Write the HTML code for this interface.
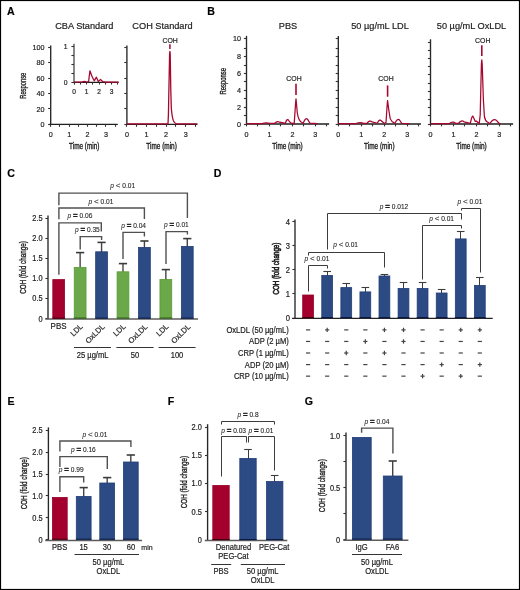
<!DOCTYPE html>
<html><head><meta charset="utf-8"><style>
html,body{margin:0;padding:0;background:#fff;}
svg{display:block;font-family:"Liberation Sans",sans-serif;will-change:transform;}
text{stroke:#1e1e1e;stroke-width:0.2px;}
</style></head><body>
<svg width="520" height="590" viewBox="0 0 520 590" fill="#1e1e1e">
<rect width="520" height="590" fill="#fff"/>
<rect x="0.5" y="0.5" width="519" height="589" fill="none" stroke="#000" stroke-width="1.2"/>
<text x="7.10" y="15.10" font-size="10.6" text-anchor="start" font-weight="bold" fill="#000">A</text>
<text x="207.20" y="15.10" font-size="10.6" text-anchor="start" font-weight="bold" fill="#000">B</text>
<text x="7.30" y="176.70" font-size="10.6" text-anchor="start" font-weight="bold" fill="#000">C</text>
<text x="213.70" y="176.70" font-size="10.6" text-anchor="start" font-weight="bold" fill="#000">D</text>
<text x="7.60" y="405.10" font-size="10.6" text-anchor="start" font-weight="bold" fill="#000">E</text>
<text x="167.70" y="405.10" font-size="10.6" text-anchor="start" font-weight="bold" fill="#000">F</text>
<text x="304.70" y="405.10" font-size="10.6" text-anchor="start" font-weight="bold" fill="#000">G</text>
<text x="0" y="0" font-size="9.6" text-anchor="middle" transform="translate(84.30 29.40) scale(0.958 1)">CBA Standard</text>
<text x="0" y="0" font-size="9.6" text-anchor="middle" transform="translate(162.50 29.40) scale(0.958 1)">COH Standard</text>
<line x1="50.70" y1="45.40" x2="50.70" y2="125.00" stroke="#262626" stroke-width="1.35"/>
<line x1="48.10" y1="124.50" x2="50.70" y2="124.50" stroke="#333" stroke-width="1.1"/>
<text x="0" y="0" font-size="7.92" text-anchor="end" transform="translate(44.60 127.24) scale(0.91 1)">0</text>
<line x1="48.10" y1="108.50" x2="50.70" y2="108.50" stroke="#333" stroke-width="1.1"/>
<text x="0" y="0" font-size="7.92" text-anchor="end" transform="translate(44.60 111.79) scale(0.91 1)">20</text>
<line x1="48.10" y1="93.50" x2="50.70" y2="93.50" stroke="#333" stroke-width="1.1"/>
<text x="0" y="0" font-size="7.92" text-anchor="end" transform="translate(44.60 96.34) scale(0.91 1)">40</text>
<line x1="48.10" y1="78.50" x2="50.70" y2="78.50" stroke="#333" stroke-width="1.1"/>
<text x="0" y="0" font-size="7.92" text-anchor="end" transform="translate(44.60 80.89) scale(0.91 1)">60</text>
<line x1="48.10" y1="62.50" x2="50.70" y2="62.50" stroke="#333" stroke-width="1.1"/>
<text x="0" y="0" font-size="7.92" text-anchor="end" transform="translate(44.60 65.44) scale(0.91 1)">80</text>
<line x1="48.10" y1="47.50" x2="50.70" y2="47.50" stroke="#333" stroke-width="1.1"/>
<text x="0" y="0" font-size="7.92" text-anchor="end" transform="translate(44.60 49.99) scale(0.91 1)">100</text>
<line x1="49.50" y1="124.40" x2="117.80" y2="124.40" stroke="#1e1e1e" stroke-width="1.3"/>
<line x1="50.50" y1="124.40" x2="50.50" y2="126.80" stroke="#333" stroke-width="1.1"/>
<line x1="59.50" y1="124.40" x2="59.50" y2="126.80" stroke="#333" stroke-width="1.1"/>
<line x1="69.50" y1="124.40" x2="69.50" y2="126.80" stroke="#333" stroke-width="1.1"/>
<line x1="78.50" y1="124.40" x2="78.50" y2="126.80" stroke="#333" stroke-width="1.1"/>
<line x1="87.50" y1="124.40" x2="87.50" y2="126.80" stroke="#333" stroke-width="1.1"/>
<line x1="96.50" y1="124.40" x2="96.50" y2="126.80" stroke="#333" stroke-width="1.1"/>
<line x1="105.50" y1="124.40" x2="105.50" y2="126.80" stroke="#333" stroke-width="1.1"/>
<line x1="115.50" y1="124.40" x2="115.50" y2="126.80" stroke="#333" stroke-width="1.1"/>
<text x="0" y="0" font-size="7.92" text-anchor="middle" transform="translate(50.75 137.26) scale(0.91 1)">0</text>
<text x="0" y="0" font-size="7.92" text-anchor="middle" transform="translate(69.15 137.26) scale(0.91 1)">1</text>
<text x="0" y="0" font-size="7.92" text-anchor="middle" transform="translate(87.55 137.26) scale(0.91 1)">2</text>
<text x="0" y="0" font-size="7.92" text-anchor="middle" transform="translate(105.95 137.26) scale(0.91 1)">3</text>
<line x1="74.00" y1="43.80" x2="74.00" y2="83.00" stroke="#262626" stroke-width="1.1"/>
<line x1="71.40" y1="82.50" x2="74.00" y2="82.50" stroke="#333" stroke-width="1.1"/>
<text x="0" y="0" font-size="7.48" text-anchor="end" transform="translate(67.60 85.08) scale(0.91 1)">0</text>
<line x1="71.40" y1="73.50" x2="74.00" y2="73.50" stroke="#333" stroke-width="1.1"/>
<line x1="71.40" y1="64.50" x2="74.00" y2="64.50" stroke="#333" stroke-width="1.1"/>
<line x1="71.40" y1="55.50" x2="74.00" y2="55.50" stroke="#333" stroke-width="1.1"/>
<line x1="71.40" y1="46.50" x2="74.00" y2="46.50" stroke="#333" stroke-width="1.1"/>
<text x="0" y="0" font-size="7.48" text-anchor="end" transform="translate(67.60 49.48) scale(0.91 1)">1</text>
<line x1="74.00" y1="82.40" x2="118.60" y2="82.40" stroke="#1e1e1e" stroke-width="1.1"/>
<line x1="74.50" y1="82.40" x2="74.50" y2="84.60" stroke="#333" stroke-width="1.1"/>
<line x1="80.50" y1="82.40" x2="80.50" y2="84.60" stroke="#333" stroke-width="1.1"/>
<line x1="86.50" y1="82.40" x2="86.50" y2="84.60" stroke="#333" stroke-width="1.1"/>
<line x1="92.50" y1="82.40" x2="92.50" y2="84.60" stroke="#333" stroke-width="1.1"/>
<line x1="99.50" y1="82.40" x2="99.50" y2="84.60" stroke="#333" stroke-width="1.1"/>
<line x1="105.50" y1="82.40" x2="105.50" y2="84.60" stroke="#333" stroke-width="1.1"/>
<line x1="111.50" y1="82.40" x2="111.50" y2="84.60" stroke="#333" stroke-width="1.1"/>
<line x1="117.50" y1="82.40" x2="117.50" y2="84.60" stroke="#333" stroke-width="1.1"/>
<text x="0" y="0" font-size="7.26" text-anchor="middle" transform="translate(74.00 94.44) scale(0.91 1)">0</text>
<text x="0" y="0" font-size="7.26" text-anchor="middle" transform="translate(86.55 94.44) scale(0.91 1)">1</text>
<text x="0" y="0" font-size="7.26" text-anchor="middle" transform="translate(99.10 94.44) scale(0.91 1)">2</text>
<text x="0" y="0" font-size="7.26" text-anchor="middle" transform="translate(111.65 94.44) scale(0.91 1)">3</text>
<path d="M74,82.1 L82,82.0 Q84.5,80.6 86.3,82.0 L88.6,81.6 L89.9,70.8 Q91.5,76 94.2,80.8 L96.4,77.2 L98.3,81.6 L100.5,79.4 L102.8,81.7 L106,82.1 L118.6,82.1" fill="none" stroke="#a6062f" stroke-width="1.25" stroke-linejoin="round"/>
<text x="84.27" y="149.30" font-size="8.4" text-anchor="middle" textLength="30.5" lengthAdjust="spacingAndGlyphs" style="stroke-width:0.35px">Time (min)</text>
<text x="25.60" y="85.75" font-size="8.3" text-anchor="middle" textLength="26.0" lengthAdjust="spacingAndGlyphs" style="stroke-width:0.35px" transform="rotate(-90 25.60 85.75)">Response</text>
<line x1="126.90" y1="45.40" x2="126.90" y2="125.00" stroke="#262626" stroke-width="1.35"/>
<line x1="124.30" y1="124.50" x2="126.90" y2="124.50" stroke="#333" stroke-width="1.1"/>
<line x1="124.30" y1="108.50" x2="126.90" y2="108.50" stroke="#333" stroke-width="1.1"/>
<line x1="124.30" y1="93.50" x2="126.90" y2="93.50" stroke="#333" stroke-width="1.1"/>
<line x1="124.30" y1="78.50" x2="126.90" y2="78.50" stroke="#333" stroke-width="1.1"/>
<line x1="124.30" y1="62.50" x2="126.90" y2="62.50" stroke="#333" stroke-width="1.1"/>
<line x1="124.30" y1="47.50" x2="126.90" y2="47.50" stroke="#333" stroke-width="1.1"/>
<line x1="126.90" y1="124.40" x2="197.40" y2="124.40" stroke="#1e1e1e" stroke-width="1.3"/>
<line x1="126.50" y1="124.40" x2="126.50" y2="126.80" stroke="#333" stroke-width="1.1"/>
<line x1="136.50" y1="124.40" x2="136.50" y2="126.80" stroke="#333" stroke-width="1.1"/>
<line x1="146.50" y1="124.40" x2="146.50" y2="126.80" stroke="#333" stroke-width="1.1"/>
<line x1="156.50" y1="124.40" x2="156.50" y2="126.80" stroke="#333" stroke-width="1.1"/>
<line x1="166.50" y1="124.40" x2="166.50" y2="126.80" stroke="#333" stroke-width="1.1"/>
<line x1="175.50" y1="124.40" x2="175.50" y2="126.80" stroke="#333" stroke-width="1.1"/>
<line x1="185.50" y1="124.40" x2="185.50" y2="126.80" stroke="#333" stroke-width="1.1"/>
<line x1="195.50" y1="124.40" x2="195.50" y2="126.80" stroke="#333" stroke-width="1.1"/>
<text x="0" y="0" font-size="7.92" text-anchor="middle" transform="translate(126.90 137.26) scale(0.91 1)">0</text>
<text x="0" y="0" font-size="7.92" text-anchor="middle" transform="translate(146.50 137.26) scale(0.91 1)">1</text>
<text x="0" y="0" font-size="7.92" text-anchor="middle" transform="translate(166.10 137.26) scale(0.91 1)">2</text>
<text x="0" y="0" font-size="7.92" text-anchor="middle" transform="translate(185.70 137.26) scale(0.91 1)">3</text>
<path d="M126.9,123.8 L168.0,123.8 L168.4,115 L169.6,54 L169.9,51.3 L170.2,54 L170.8,90 L171.3,108 Q172.2,118 173.5,121 Q174.8,123.6 176.5,123.8 L197.4,123.8" fill="none" stroke="#a6062f" stroke-width="1.3" stroke-linejoin="round"/>
<line x1="169.90" y1="44.20" x2="169.90" y2="49.00" stroke="#a6062f" stroke-width="1.5"/>
<text x="0" y="0" font-size="7.59" text-anchor="middle" transform="translate(170.10 42.65) scale(0.91 1)">COH</text>
<text x="161.60" y="149.30" font-size="8.4" text-anchor="middle" textLength="30.5" lengthAdjust="spacingAndGlyphs" style="stroke-width:0.35px">Time (min)</text>
<text x="0" y="0" font-size="9.6" text-anchor="middle" transform="translate(288.00 29.00) scale(0.958 1)">PBS</text>
<text x="0" y="0" font-size="9.6" text-anchor="middle" transform="translate(380.00 29.00) scale(0.958 1)">50 µg/mL LDL</text>
<text x="0" y="0" font-size="9.6" text-anchor="middle" transform="translate(471.50 29.00) scale(0.958 1)">50 µg/mL OxLDL</text>
<line x1="246.50" y1="35.90" x2="246.50" y2="124.60" stroke="#262626" stroke-width="1.35"/>
<line x1="243.90" y1="124.50" x2="246.50" y2="124.50" stroke="#333" stroke-width="1.1"/>
<text x="0" y="0" font-size="7.92" text-anchor="end" transform="translate(240.90 127.04) scale(0.91 1)">0</text>
<line x1="243.90" y1="115.50" x2="246.50" y2="115.50" stroke="#333" stroke-width="1.1"/>
<line x1="243.90" y1="107.50" x2="246.50" y2="107.50" stroke="#333" stroke-width="1.1"/>
<text x="0" y="0" font-size="7.92" text-anchor="end" transform="translate(240.90 110.14) scale(0.91 1)">2</text>
<line x1="243.90" y1="98.50" x2="246.50" y2="98.50" stroke="#333" stroke-width="1.1"/>
<line x1="243.90" y1="90.50" x2="246.50" y2="90.50" stroke="#333" stroke-width="1.1"/>
<text x="0" y="0" font-size="7.92" text-anchor="end" transform="translate(240.90 93.24) scale(0.91 1)">4</text>
<line x1="243.90" y1="81.50" x2="246.50" y2="81.50" stroke="#333" stroke-width="1.1"/>
<line x1="243.90" y1="73.50" x2="246.50" y2="73.50" stroke="#333" stroke-width="1.1"/>
<text x="0" y="0" font-size="7.92" text-anchor="end" transform="translate(240.90 76.44) scale(0.91 1)">6</text>
<line x1="243.90" y1="65.50" x2="246.50" y2="65.50" stroke="#333" stroke-width="1.1"/>
<line x1="243.90" y1="56.50" x2="246.50" y2="56.50" stroke="#333" stroke-width="1.1"/>
<text x="0" y="0" font-size="7.92" text-anchor="end" transform="translate(240.90 59.44) scale(0.91 1)">8</text>
<line x1="243.90" y1="48.50" x2="246.50" y2="48.50" stroke="#333" stroke-width="1.1"/>
<line x1="243.90" y1="38.50" x2="246.50" y2="38.50" stroke="#333" stroke-width="1.1"/>
<text x="0" y="0" font-size="7.92" text-anchor="end" transform="translate(240.90 41.24) scale(0.91 1)">10</text>
<line x1="246.50" y1="124.00" x2="329.12" y2="124.00" stroke="#1e1e1e" stroke-width="1.3"/>
<line x1="246.50" y1="124.00" x2="246.50" y2="126.40" stroke="#333" stroke-width="1.1"/>
<line x1="257.50" y1="124.00" x2="257.50" y2="126.40" stroke="#333" stroke-width="1.1"/>
<line x1="269.50" y1="124.00" x2="269.50" y2="126.40" stroke="#333" stroke-width="1.1"/>
<line x1="280.50" y1="124.00" x2="280.50" y2="126.40" stroke="#333" stroke-width="1.1"/>
<line x1="292.50" y1="124.00" x2="292.50" y2="126.40" stroke="#333" stroke-width="1.1"/>
<line x1="303.50" y1="124.00" x2="303.50" y2="126.40" stroke="#333" stroke-width="1.1"/>
<line x1="315.50" y1="124.00" x2="315.50" y2="126.40" stroke="#333" stroke-width="1.1"/>
<line x1="326.50" y1="124.00" x2="326.50" y2="126.40" stroke="#333" stroke-width="1.1"/>
<text x="0" y="0" font-size="7.92" text-anchor="middle" transform="translate(246.50 137.26) scale(0.91 1)">0</text>
<text x="0" y="0" font-size="7.92" text-anchor="middle" transform="translate(269.45 137.26) scale(0.91 1)">1</text>
<text x="0" y="0" font-size="7.92" text-anchor="middle" transform="translate(292.40 137.26) scale(0.91 1)">2</text>
<text x="0" y="0" font-size="7.92" text-anchor="middle" transform="translate(315.35 137.26) scale(0.91 1)">3</text>
<text x="287.52" y="149.30" font-size="8.4" text-anchor="middle" textLength="30.5" lengthAdjust="spacingAndGlyphs" style="stroke-width:0.35px">Time (min)</text>
<line x1="338.30" y1="35.90" x2="338.30" y2="124.60" stroke="#262626" stroke-width="1.35"/>
<line x1="335.70" y1="124.50" x2="338.30" y2="124.50" stroke="#333" stroke-width="1.1"/>
<line x1="335.70" y1="115.50" x2="338.30" y2="115.50" stroke="#333" stroke-width="1.1"/>
<line x1="335.70" y1="107.50" x2="338.30" y2="107.50" stroke="#333" stroke-width="1.1"/>
<line x1="335.70" y1="98.50" x2="338.30" y2="98.50" stroke="#333" stroke-width="1.1"/>
<line x1="335.70" y1="90.50" x2="338.30" y2="90.50" stroke="#333" stroke-width="1.1"/>
<line x1="335.70" y1="81.50" x2="338.30" y2="81.50" stroke="#333" stroke-width="1.1"/>
<line x1="335.70" y1="73.50" x2="338.30" y2="73.50" stroke="#333" stroke-width="1.1"/>
<line x1="335.70" y1="65.50" x2="338.30" y2="65.50" stroke="#333" stroke-width="1.1"/>
<line x1="335.70" y1="56.50" x2="338.30" y2="56.50" stroke="#333" stroke-width="1.1"/>
<line x1="335.70" y1="48.50" x2="338.30" y2="48.50" stroke="#333" stroke-width="1.1"/>
<line x1="335.70" y1="38.50" x2="338.30" y2="38.50" stroke="#333" stroke-width="1.1"/>
<line x1="338.30" y1="124.00" x2="420.92" y2="124.00" stroke="#1e1e1e" stroke-width="1.3"/>
<line x1="338.50" y1="124.00" x2="338.50" y2="126.40" stroke="#333" stroke-width="1.1"/>
<line x1="349.50" y1="124.00" x2="349.50" y2="126.40" stroke="#333" stroke-width="1.1"/>
<line x1="361.50" y1="124.00" x2="361.50" y2="126.40" stroke="#333" stroke-width="1.1"/>
<line x1="372.50" y1="124.00" x2="372.50" y2="126.40" stroke="#333" stroke-width="1.1"/>
<line x1="384.50" y1="124.00" x2="384.50" y2="126.40" stroke="#333" stroke-width="1.1"/>
<line x1="395.50" y1="124.00" x2="395.50" y2="126.40" stroke="#333" stroke-width="1.1"/>
<line x1="407.50" y1="124.00" x2="407.50" y2="126.40" stroke="#333" stroke-width="1.1"/>
<line x1="418.50" y1="124.00" x2="418.50" y2="126.40" stroke="#333" stroke-width="1.1"/>
<text x="0" y="0" font-size="7.92" text-anchor="middle" transform="translate(338.30 137.26) scale(0.91 1)">0</text>
<text x="0" y="0" font-size="7.92" text-anchor="middle" transform="translate(361.25 137.26) scale(0.91 1)">1</text>
<text x="0" y="0" font-size="7.92" text-anchor="middle" transform="translate(384.20 137.26) scale(0.91 1)">2</text>
<text x="0" y="0" font-size="7.92" text-anchor="middle" transform="translate(407.15 137.26) scale(0.91 1)">3</text>
<text x="379.32" y="149.30" font-size="8.4" text-anchor="middle" textLength="30.5" lengthAdjust="spacingAndGlyphs" style="stroke-width:0.35px">Time (min)</text>
<line x1="430.50" y1="39.30" x2="430.50" y2="124.60" stroke="#262626" stroke-width="1.35"/>
<line x1="427.90" y1="124.50" x2="430.50" y2="124.50" stroke="#333" stroke-width="1.1"/>
<line x1="427.90" y1="115.50" x2="430.50" y2="115.50" stroke="#333" stroke-width="1.1"/>
<line x1="427.90" y1="107.50" x2="430.50" y2="107.50" stroke="#333" stroke-width="1.1"/>
<line x1="427.90" y1="99.50" x2="430.50" y2="99.50" stroke="#333" stroke-width="1.1"/>
<line x1="427.90" y1="91.50" x2="430.50" y2="91.50" stroke="#333" stroke-width="1.1"/>
<line x1="427.90" y1="83.50" x2="430.50" y2="83.50" stroke="#333" stroke-width="1.1"/>
<line x1="427.90" y1="74.50" x2="430.50" y2="74.50" stroke="#333" stroke-width="1.1"/>
<line x1="427.90" y1="66.50" x2="430.50" y2="66.50" stroke="#333" stroke-width="1.1"/>
<line x1="427.90" y1="58.50" x2="430.50" y2="58.50" stroke="#333" stroke-width="1.1"/>
<line x1="427.90" y1="50.50" x2="430.50" y2="50.50" stroke="#333" stroke-width="1.1"/>
<line x1="427.90" y1="42.50" x2="430.50" y2="42.50" stroke="#333" stroke-width="1.1"/>
<line x1="430.50" y1="124.00" x2="513.12" y2="124.00" stroke="#1e1e1e" stroke-width="1.3"/>
<line x1="430.50" y1="124.00" x2="430.50" y2="126.40" stroke="#333" stroke-width="1.1"/>
<line x1="441.50" y1="124.00" x2="441.50" y2="126.40" stroke="#333" stroke-width="1.1"/>
<line x1="453.50" y1="124.00" x2="453.50" y2="126.40" stroke="#333" stroke-width="1.1"/>
<line x1="464.50" y1="124.00" x2="464.50" y2="126.40" stroke="#333" stroke-width="1.1"/>
<line x1="476.50" y1="124.00" x2="476.50" y2="126.40" stroke="#333" stroke-width="1.1"/>
<line x1="487.50" y1="124.00" x2="487.50" y2="126.40" stroke="#333" stroke-width="1.1"/>
<line x1="499.50" y1="124.00" x2="499.50" y2="126.40" stroke="#333" stroke-width="1.1"/>
<line x1="510.50" y1="124.00" x2="510.50" y2="126.40" stroke="#333" stroke-width="1.1"/>
<text x="0" y="0" font-size="7.92" text-anchor="middle" transform="translate(430.50 137.26) scale(0.91 1)">0</text>
<text x="0" y="0" font-size="7.92" text-anchor="middle" transform="translate(453.45 137.26) scale(0.91 1)">1</text>
<text x="0" y="0" font-size="7.92" text-anchor="middle" transform="translate(476.40 137.26) scale(0.91 1)">2</text>
<text x="0" y="0" font-size="7.92" text-anchor="middle" transform="translate(499.35 137.26) scale(0.91 1)">3</text>
<text x="471.52" y="149.30" font-size="8.4" text-anchor="middle" textLength="30.5" lengthAdjust="spacingAndGlyphs" style="stroke-width:0.35px">Time (min)</text>
<text x="225.60" y="81.30" font-size="8.3" text-anchor="middle" textLength="26.5" lengthAdjust="spacingAndGlyphs" style="stroke-width:0.35px" transform="rotate(-90 225.60 81.30)">Response</text>
<path d="M246.5,123.6 L262,123.6 Q266,122.3 270,123.4 L274.5,123.4 Q277,120.6 279.5,122.2 L283.4,122.9 L285.3,123.3 Q287.2,117.8 288.5,120.3 L290.6,122.8 L294.2,123.6 L295.6,103 L296.0,98.8 L296.4,103 L297.3,113 Q298.3,119.5 300.8,121.8 L303.2,123.2 Q305.8,116.8 307.8,119.6 L309.9,123.2 L317.6,123.6" fill="none" stroke="#a6062f" stroke-width="1.25" stroke-linejoin="round"/>
<line x1="296.00" y1="83.70" x2="296.00" y2="95.00" stroke="#a6062f" stroke-width="1.6"/>
<text x="0" y="0" font-size="7.59" text-anchor="middle" transform="translate(294.00 81.05) scale(0.91 1)">COH</text>
<path d="M338.3,123.6 L356,123.6 Q360.3,121.6 363.5,123.4 L367,123.3 Q369.5,119.8 372,121.8 L376.5,123.0 L377.5,122.8 Q379.7,118.4 381.5,121.0 L384.5,123.5 L386.0,122.5 L387.3,103 L387.6,100.5 L387.9,103 L388.8,110 L390.2,118.6 Q391.5,122 394.8,123.4 Q397.5,117.6 399.5,120.0 L401.8,123.4 L409.8,123.6" fill="none" stroke="#a6062f" stroke-width="1.25" stroke-linejoin="round"/>
<line x1="387.60" y1="85.40" x2="387.60" y2="96.70" stroke="#a6062f" stroke-width="1.6"/>
<text x="0" y="0" font-size="7.59" text-anchor="middle" transform="translate(386.00 81.05) scale(0.91 1)">COH</text>
<path d="M430.5,123.7 L449,123.7 Q452.8,120.8 455.8,123.4 L458.5,123.3 Q461.3,119.6 464,121.8 L470.3,123.4 Q472.4,113.2 473.4,117.2 L475.3,121.4 L476.6,121.2 L479.2,123.8 L480.2,115 L481.4,64 L481.8,59.9 L482.2,64 L483.4,100 L484.4,116.5 Q485.4,120.8 487,121.8 L489.8,123.5 Q493.5,117.8 496.5,120.4 L499.2,123.5 L500.6,123.7" fill="none" stroke="#a6062f" stroke-width="1.25" stroke-linejoin="round"/>
<line x1="481.80" y1="45.20" x2="481.80" y2="55.90" stroke="#a6062f" stroke-width="1.6"/>
<text x="0" y="0" font-size="7.59" text-anchor="middle" transform="translate(482.70 42.55) scale(0.91 1)">COH</text>
<line x1="48.00" y1="215.40" x2="48.00" y2="319.20" stroke="#262626" stroke-width="1.35"/>
<line x1="45.40" y1="318.50" x2="48.00" y2="318.50" stroke="#333" stroke-width="1.1"/>
<text x="0" y="0" font-size="8.14" text-anchor="end" transform="translate(42.60 321.51) scale(0.91 1)">0</text>
<line x1="45.40" y1="298.50" x2="48.00" y2="298.50" stroke="#333" stroke-width="1.1"/>
<text x="0" y="0" font-size="8.14" text-anchor="end" transform="translate(42.60 301.41) scale(0.91 1)">0.5</text>
<line x1="45.40" y1="278.50" x2="48.00" y2="278.50" stroke="#333" stroke-width="1.1"/>
<text x="0" y="0" font-size="8.14" text-anchor="end" transform="translate(42.60 281.31) scale(0.91 1)">1.0</text>
<line x1="45.40" y1="258.50" x2="48.00" y2="258.50" stroke="#333" stroke-width="1.1"/>
<text x="0" y="0" font-size="8.14" text-anchor="end" transform="translate(42.60 261.21) scale(0.91 1)">1.5</text>
<line x1="45.40" y1="238.50" x2="48.00" y2="238.50" stroke="#333" stroke-width="1.1"/>
<text x="0" y="0" font-size="8.14" text-anchor="end" transform="translate(42.60 241.11) scale(0.91 1)">2.0</text>
<line x1="45.40" y1="218.50" x2="48.00" y2="218.50" stroke="#333" stroke-width="1.1"/>
<text x="0" y="0" font-size="8.14" text-anchor="end" transform="translate(42.60 221.01) scale(0.91 1)">2.5</text>
<line x1="45.20" y1="319.00" x2="198.00" y2="319.00" stroke="#5c5c5c" stroke-width="1.5"/>
<rect x="52.80" y="279.60" width="11.80" height="38.80" fill="#a3002d" stroke="#9a0029" stroke-width="0.8"/>
<line x1="52.40" y1="318.10" x2="65.00" y2="318.10" stroke="#3a0010" stroke-width="1"/>
<line x1="80.13" y1="252.60" x2="80.13" y2="268.00" stroke="#444" stroke-width="1.4"/>
<line x1="76.03" y1="252.60" x2="84.23" y2="252.60" stroke="#3a3a3a" stroke-width="1.6"/>
<rect x="74.23" y="267.40" width="11.80" height="51.00" fill="#6aa84a" stroke="#5c9c36" stroke-width="0.8"/>
<line x1="73.83" y1="318.10" x2="86.43" y2="318.10" stroke="#2a4a18" stroke-width="1"/>
<line x1="101.56" y1="242.40" x2="101.56" y2="252.40" stroke="#444" stroke-width="1.4"/>
<line x1="97.46" y1="242.40" x2="105.66" y2="242.40" stroke="#3a3a3a" stroke-width="1.6"/>
<rect x="95.66" y="251.80" width="11.80" height="66.60" fill="#2c4a83" stroke="#233f78" stroke-width="0.8"/>
<line x1="95.26" y1="318.10" x2="107.86" y2="318.10" stroke="#0c1a40" stroke-width="1"/>
<line x1="122.99" y1="263.60" x2="122.99" y2="272.40" stroke="#444" stroke-width="1.4"/>
<line x1="118.89" y1="263.60" x2="127.09" y2="263.60" stroke="#3a3a3a" stroke-width="1.6"/>
<rect x="117.09" y="271.80" width="11.80" height="46.60" fill="#6aa84a" stroke="#5c9c36" stroke-width="0.8"/>
<line x1="116.69" y1="318.10" x2="129.29" y2="318.10" stroke="#2a4a18" stroke-width="1"/>
<line x1="144.42" y1="241.00" x2="144.42" y2="248.00" stroke="#444" stroke-width="1.4"/>
<line x1="140.32" y1="241.00" x2="148.52" y2="241.00" stroke="#3a3a3a" stroke-width="1.6"/>
<rect x="138.52" y="247.40" width="11.80" height="71.00" fill="#2c4a83" stroke="#233f78" stroke-width="0.8"/>
<line x1="138.12" y1="318.10" x2="150.72" y2="318.10" stroke="#0c1a40" stroke-width="1"/>
<line x1="165.85" y1="269.60" x2="165.85" y2="280.00" stroke="#444" stroke-width="1.4"/>
<line x1="161.75" y1="269.60" x2="169.95" y2="269.60" stroke="#3a3a3a" stroke-width="1.6"/>
<rect x="159.95" y="279.40" width="11.80" height="39.00" fill="#6aa84a" stroke="#5c9c36" stroke-width="0.8"/>
<line x1="159.55" y1="318.10" x2="172.15" y2="318.10" stroke="#2a4a18" stroke-width="1"/>
<line x1="187.28" y1="238.60" x2="187.28" y2="247.00" stroke="#444" stroke-width="1.4"/>
<line x1="183.18" y1="238.60" x2="191.38" y2="238.60" stroke="#3a3a3a" stroke-width="1.6"/>
<rect x="181.38" y="246.40" width="11.80" height="72.00" fill="#2c4a83" stroke="#233f78" stroke-width="0.8"/>
<line x1="180.98" y1="318.10" x2="193.58" y2="318.10" stroke="#0c1a40" stroke-width="1"/>
<polyline points="58.90,205.20 58.90,193.10 187.40,193.10 187.40,218.00" fill="none" stroke="#505050" stroke-width="1.4" stroke-linejoin="miter"/>
<polyline points="58.90,219.20 58.90,208.00 144.40,208.00 144.40,219.00" fill="none" stroke="#505050" stroke-width="1.4" stroke-linejoin="miter"/>
<polyline points="58.90,274.70 58.90,222.90 101.30,222.90 101.30,231.50" fill="none" stroke="#505050" stroke-width="1.4" stroke-linejoin="miter"/>
<polyline points="80.20,249.60 80.20,236.60 101.60,236.60 101.60,240.00" fill="none" stroke="#505050" stroke-width="1.4" stroke-linejoin="miter"/>
<polyline points="123.00,259.00 123.00,232.40 144.40,232.40 144.40,236.40" fill="none" stroke="#505050" stroke-width="1.4" stroke-linejoin="miter"/>
<polyline points="166.00,264.00 166.00,231.60 187.40,231.60 187.40,234.40" fill="none" stroke="#505050" stroke-width="1.4" stroke-linejoin="miter"/>
<text x="122.70" y="188.36" font-size="6.6" text-anchor="middle" style="stroke-width:0.1px"><tspan font-style="italic" style="stroke-width:0.05px">p</tspan> <tspan font-size="7.92">&lt;</tspan> 0.01</text>
<text x="101.00" y="203.76" font-size="6.6" text-anchor="middle" style="stroke-width:0.1px"><tspan font-style="italic" style="stroke-width:0.05px">p</tspan> <tspan font-size="7.92">&lt;</tspan> 0.01</text>
<text x="80.00" y="218.36" font-size="6.6" text-anchor="middle" style="stroke-width:0.1px"><tspan font-style="italic" style="stroke-width:0.05px">p</tspan> <tspan font-size="7.92" font-weight="bold" style="stroke-width:0.4px">=</tspan> 0.06</text>
<text x="87.40" y="232.16" font-size="6.6" text-anchor="middle" style="stroke-width:0.1px"><tspan font-style="italic" style="stroke-width:0.05px">p</tspan> <tspan font-size="7.92" font-weight="bold" style="stroke-width:0.4px">=</tspan> 0.35</text>
<text x="133.60" y="227.56" font-size="6.6" text-anchor="middle" style="stroke-width:0.1px"><tspan font-style="italic" style="stroke-width:0.05px">p</tspan> <tspan font-size="7.92" font-weight="bold" style="stroke-width:0.4px">=</tspan> 0.04</text>
<text x="176.40" y="227.36" font-size="6.6" text-anchor="middle" style="stroke-width:0.1px"><tspan font-style="italic" style="stroke-width:0.05px">p</tspan> <tspan font-size="7.92" font-weight="bold" style="stroke-width:0.4px">=</tspan> 0.01</text>
<text x="0" y="0" font-size="8.8" text-anchor="middle" transform="translate(58.60 329.19) scale(0.91 1)">PBS</text>
<text x="83.33" y="326.90" font-size="7.6" text-anchor="end" transform="rotate(-45 83.33 326.90)">LDL</text>
<text x="105.16" y="327.20" font-size="7.6" text-anchor="end" transform="rotate(-45 105.16 327.20)">OxLDL</text>
<text x="126.19" y="326.90" font-size="7.6" text-anchor="end" transform="rotate(-45 126.19 326.90)">LDL</text>
<text x="148.02" y="327.20" font-size="7.6" text-anchor="end" transform="rotate(-45 148.02 327.20)">OxLDL</text>
<text x="169.05" y="326.90" font-size="7.6" text-anchor="end" transform="rotate(-45 169.05 326.90)">LDL</text>
<text x="190.88" y="327.20" font-size="7.6" text-anchor="end" transform="rotate(-45 190.88 327.20)">OxLDL</text>
<line x1="74.00" y1="347.50" x2="111.00" y2="347.50" stroke="#333333" stroke-width="1.0"/>
<line x1="116.40" y1="347.50" x2="153.60" y2="347.50" stroke="#333333" stroke-width="1.0"/>
<line x1="158.60" y1="347.50" x2="195.60" y2="347.50" stroke="#333333" stroke-width="1.0"/>
<text x="0" y="0" font-size="8.36" text-anchor="middle" transform="translate(92.60 358.07) scale(0.91 1)">25 µg/mL</text>
<text x="0" y="0" font-size="8.36" text-anchor="middle" transform="translate(135.00 358.07) scale(0.91 1)">50</text>
<text x="0" y="0" font-size="8.36" text-anchor="middle" transform="translate(177.00 358.07) scale(0.91 1)">100</text>
<text x="26.20" y="267.50" font-size="8.4" text-anchor="middle" textLength="52.5" lengthAdjust="spacingAndGlyphs" style="stroke-width:0.35px" transform="rotate(-90 26.20 267.50)">COH (fold change)</text>
<line x1="295.00" y1="219.40" x2="295.00" y2="318.60" stroke="#262626" stroke-width="1.35"/>
<line x1="292.40" y1="318.50" x2="295.00" y2="318.50" stroke="#333" stroke-width="1.1"/>
<text x="0" y="0" font-size="8.36" text-anchor="end" transform="translate(290.00 320.99) scale(0.91 1)">0</text>
<line x1="292.40" y1="293.50" x2="295.00" y2="293.50" stroke="#333" stroke-width="1.1"/>
<text x="0" y="0" font-size="8.36" text-anchor="end" transform="translate(290.00 296.89) scale(0.91 1)">1</text>
<line x1="292.40" y1="269.50" x2="295.00" y2="269.50" stroke="#333" stroke-width="1.1"/>
<text x="0" y="0" font-size="8.36" text-anchor="end" transform="translate(290.00 272.79) scale(0.91 1)">2</text>
<line x1="292.40" y1="245.50" x2="295.00" y2="245.50" stroke="#333" stroke-width="1.1"/>
<text x="0" y="0" font-size="8.36" text-anchor="end" transform="translate(290.00 248.69) scale(0.91 1)">3</text>
<line x1="292.40" y1="221.50" x2="295.00" y2="221.50" stroke="#333" stroke-width="1.1"/>
<text x="0" y="0" font-size="8.36" text-anchor="end" transform="translate(290.00 224.59) scale(0.91 1)">4</text>
<line x1="292.20" y1="318.40" x2="492.70" y2="318.40" stroke="#222" stroke-width="1.3"/>
<rect x="302.70" y="295.00" width="10.80" height="22.80" fill="#a3002d" stroke="#9a0029" stroke-width="0.8"/>
<line x1="302.30" y1="317.50" x2="313.90" y2="317.50" stroke="#3a0010" stroke-width="1"/>
<line x1="327.50" y1="271.40" x2="327.50" y2="276.00" stroke="#3c3c3c" stroke-width="1.0"/>
<line x1="323.38" y1="271.50" x2="330.98" y2="271.50" stroke="#3c3c3c" stroke-width="1.1"/>
<rect x="321.78" y="275.40" width="10.80" height="42.40" fill="#2c4a83" stroke="#233f78" stroke-width="0.8"/>
<line x1="321.38" y1="317.50" x2="332.98" y2="317.50" stroke="#0c1a40" stroke-width="1"/>
<line x1="346.50" y1="283.40" x2="346.50" y2="288.20" stroke="#3c3c3c" stroke-width="1.0"/>
<line x1="342.46" y1="283.50" x2="350.06" y2="283.50" stroke="#3c3c3c" stroke-width="1.1"/>
<rect x="340.86" y="287.60" width="10.80" height="30.20" fill="#2c4a83" stroke="#233f78" stroke-width="0.8"/>
<line x1="340.46" y1="317.50" x2="352.06" y2="317.50" stroke="#0c1a40" stroke-width="1"/>
<line x1="365.50" y1="287.50" x2="365.50" y2="292.50" stroke="#3c3c3c" stroke-width="1.0"/>
<line x1="361.54" y1="287.50" x2="369.14" y2="287.50" stroke="#3c3c3c" stroke-width="1.1"/>
<rect x="359.94" y="291.90" width="10.80" height="25.90" fill="#2c4a83" stroke="#233f78" stroke-width="0.8"/>
<line x1="359.54" y1="317.50" x2="371.14" y2="317.50" stroke="#0c1a40" stroke-width="1"/>
<line x1="384.50" y1="274.00" x2="384.50" y2="276.60" stroke="#3c3c3c" stroke-width="1.0"/>
<line x1="380.62" y1="274.50" x2="388.22" y2="274.50" stroke="#3c3c3c" stroke-width="1.1"/>
<rect x="379.02" y="276.00" width="10.80" height="41.80" fill="#2c4a83" stroke="#233f78" stroke-width="0.8"/>
<line x1="378.62" y1="317.50" x2="390.22" y2="317.50" stroke="#0c1a40" stroke-width="1"/>
<line x1="403.50" y1="282.60" x2="403.50" y2="289.00" stroke="#3c3c3c" stroke-width="1.0"/>
<line x1="399.70" y1="282.50" x2="407.30" y2="282.50" stroke="#3c3c3c" stroke-width="1.1"/>
<rect x="398.10" y="288.40" width="10.80" height="29.40" fill="#2c4a83" stroke="#233f78" stroke-width="0.8"/>
<line x1="397.70" y1="317.50" x2="409.30" y2="317.50" stroke="#0c1a40" stroke-width="1"/>
<line x1="422.50" y1="282.60" x2="422.50" y2="289.00" stroke="#3c3c3c" stroke-width="1.0"/>
<line x1="418.78" y1="282.50" x2="426.38" y2="282.50" stroke="#3c3c3c" stroke-width="1.1"/>
<rect x="417.18" y="288.40" width="10.80" height="29.40" fill="#2c4a83" stroke="#233f78" stroke-width="0.8"/>
<line x1="416.78" y1="317.50" x2="428.38" y2="317.50" stroke="#0c1a40" stroke-width="1"/>
<line x1="441.50" y1="289.00" x2="441.50" y2="293.60" stroke="#3c3c3c" stroke-width="1.0"/>
<line x1="437.86" y1="289.50" x2="445.46" y2="289.50" stroke="#3c3c3c" stroke-width="1.1"/>
<rect x="436.26" y="293.00" width="10.80" height="24.80" fill="#2c4a83" stroke="#233f78" stroke-width="0.8"/>
<line x1="435.86" y1="317.50" x2="447.46" y2="317.50" stroke="#0c1a40" stroke-width="1"/>
<line x1="460.50" y1="231.40" x2="460.50" y2="239.50" stroke="#3c3c3c" stroke-width="1.0"/>
<line x1="456.94" y1="231.50" x2="464.54" y2="231.50" stroke="#3c3c3c" stroke-width="1.1"/>
<rect x="455.34" y="238.90" width="10.80" height="78.90" fill="#2c4a83" stroke="#233f78" stroke-width="0.8"/>
<line x1="454.94" y1="317.50" x2="466.54" y2="317.50" stroke="#0c1a40" stroke-width="1"/>
<line x1="479.50" y1="277.60" x2="479.50" y2="286.00" stroke="#3c3c3c" stroke-width="1.0"/>
<line x1="476.02" y1="277.50" x2="483.62" y2="277.50" stroke="#3c3c3c" stroke-width="1.1"/>
<rect x="474.42" y="285.40" width="10.80" height="32.40" fill="#2c4a83" stroke="#233f78" stroke-width="0.8"/>
<line x1="474.02" y1="317.50" x2="485.62" y2="317.50" stroke="#0c1a40" stroke-width="1"/>
<polyline points="308.50,291.50 308.50,265.50 327.50,265.50 327.50,268.50" fill="none" stroke="#3c3c3c" stroke-width="1.0" stroke-linejoin="miter"/>
<polyline points="308.50,255.50 308.50,252.50 384.50,252.50 384.50,267.50" fill="none" stroke="#3c3c3c" stroke-width="1.0" stroke-linejoin="miter"/>
<polyline points="327.50,249.50 327.50,213.50 461.50,213.50 461.50,219.50" fill="none" stroke="#3c3c3c" stroke-width="1.0" stroke-linejoin="miter"/>
<polyline points="422.50,279.50 422.50,225.50 461.50,225.50 461.50,228.50" fill="none" stroke="#3c3c3c" stroke-width="1.0" stroke-linejoin="miter"/>
<polyline points="461.50,210.50 461.50,208.50 480.50,208.50 480.50,272.50" fill="none" stroke="#3c3c3c" stroke-width="1.0" stroke-linejoin="miter"/>
<text x="317.00" y="260.96" font-size="6.6" text-anchor="middle" style="stroke-width:0.1px"><tspan font-style="italic" style="stroke-width:0.05px">p</tspan> <tspan font-size="7.92">&lt;</tspan> 0.01</text>
<text x="345.60" y="247.36" font-size="6.6" text-anchor="middle" style="stroke-width:0.1px"><tspan font-style="italic" style="stroke-width:0.05px">p</tspan> <tspan font-size="7.92">&lt;</tspan> 0.01</text>
<text x="394.00" y="208.96" font-size="6.6" text-anchor="middle" style="stroke-width:0.1px"><tspan font-style="italic" style="stroke-width:0.05px">p</tspan> <tspan font-size="7.92" font-weight="bold" style="stroke-width:0.4px">=</tspan> 0.012</text>
<text x="441.60" y="220.96" font-size="6.6" text-anchor="middle" style="stroke-width:0.1px"><tspan font-style="italic" style="stroke-width:0.05px">p</tspan> <tspan font-size="7.92">&lt;</tspan> 0.01</text>
<text x="470.00" y="203.96" font-size="6.6" text-anchor="middle" style="stroke-width:0.1px"><tspan font-style="italic" style="stroke-width:0.05px">p</tspan> <tspan font-size="7.92">&lt;</tspan> 0.01</text>
<text x="279.40" y="268.60" font-size="8.3" text-anchor="middle" textLength="52.0" lengthAdjust="spacingAndGlyphs" style="stroke-width:0.6px" transform="rotate(-90 279.40 268.60)">COH (fold change)</text>
<text x="0" y="0" font-size="8.36" text-anchor="end" transform="translate(288.80 332.87) scale(0.91 1)">OxLDL (50 µg/mL)</text>
<line x1="306.00" y1="329.90" x2="310.20" y2="329.90" stroke="#444" stroke-width="1.2"/>
<line x1="325.08" y1="329.90" x2="329.28" y2="329.90" stroke="#444" stroke-width="1.2"/>
<line x1="327.18" y1="327.70" x2="327.18" y2="332.10" stroke="#444" stroke-width="1.2"/>
<line x1="344.16" y1="329.90" x2="348.36" y2="329.90" stroke="#444" stroke-width="1.2"/>
<line x1="363.24" y1="329.90" x2="367.44" y2="329.90" stroke="#444" stroke-width="1.2"/>
<line x1="382.32" y1="329.90" x2="386.52" y2="329.90" stroke="#444" stroke-width="1.2"/>
<line x1="384.42" y1="327.70" x2="384.42" y2="332.10" stroke="#444" stroke-width="1.2"/>
<line x1="401.40" y1="329.90" x2="405.60" y2="329.90" stroke="#444" stroke-width="1.2"/>
<line x1="403.50" y1="327.70" x2="403.50" y2="332.10" stroke="#444" stroke-width="1.2"/>
<line x1="420.48" y1="329.90" x2="424.68" y2="329.90" stroke="#444" stroke-width="1.2"/>
<line x1="439.56" y1="329.90" x2="443.76" y2="329.90" stroke="#444" stroke-width="1.2"/>
<line x1="458.64" y1="329.90" x2="462.84" y2="329.90" stroke="#444" stroke-width="1.2"/>
<line x1="460.74" y1="327.70" x2="460.74" y2="332.10" stroke="#444" stroke-width="1.2"/>
<line x1="477.72" y1="329.90" x2="481.92" y2="329.90" stroke="#444" stroke-width="1.2"/>
<line x1="479.82" y1="327.70" x2="479.82" y2="332.10" stroke="#444" stroke-width="1.2"/>
<text x="0" y="0" font-size="8.36" text-anchor="end" transform="translate(288.80 344.42) scale(0.91 1)">ADP (2 µM)</text>
<line x1="306.00" y1="341.45" x2="310.20" y2="341.45" stroke="#444" stroke-width="1.2"/>
<line x1="325.08" y1="341.45" x2="329.28" y2="341.45" stroke="#444" stroke-width="1.2"/>
<line x1="344.16" y1="341.45" x2="348.36" y2="341.45" stroke="#444" stroke-width="1.2"/>
<line x1="363.24" y1="341.45" x2="367.44" y2="341.45" stroke="#444" stroke-width="1.2"/>
<line x1="365.34" y1="339.25" x2="365.34" y2="343.65" stroke="#444" stroke-width="1.2"/>
<line x1="382.32" y1="341.45" x2="386.52" y2="341.45" stroke="#444" stroke-width="1.2"/>
<line x1="401.40" y1="341.45" x2="405.60" y2="341.45" stroke="#444" stroke-width="1.2"/>
<line x1="403.50" y1="339.25" x2="403.50" y2="343.65" stroke="#444" stroke-width="1.2"/>
<line x1="420.48" y1="341.45" x2="424.68" y2="341.45" stroke="#444" stroke-width="1.2"/>
<line x1="439.56" y1="341.45" x2="443.76" y2="341.45" stroke="#444" stroke-width="1.2"/>
<line x1="458.64" y1="341.45" x2="462.84" y2="341.45" stroke="#444" stroke-width="1.2"/>
<line x1="477.72" y1="341.45" x2="481.92" y2="341.45" stroke="#444" stroke-width="1.2"/>
<text x="0" y="0" font-size="8.36" text-anchor="end" transform="translate(288.80 355.97) scale(0.91 1)">CRP (1 µg/mL)</text>
<line x1="306.00" y1="353.00" x2="310.20" y2="353.00" stroke="#444" stroke-width="1.2"/>
<line x1="325.08" y1="353.00" x2="329.28" y2="353.00" stroke="#444" stroke-width="1.2"/>
<line x1="344.16" y1="353.00" x2="348.36" y2="353.00" stroke="#444" stroke-width="1.2"/>
<line x1="346.26" y1="350.80" x2="346.26" y2="355.20" stroke="#444" stroke-width="1.2"/>
<line x1="363.24" y1="353.00" x2="367.44" y2="353.00" stroke="#444" stroke-width="1.2"/>
<line x1="382.32" y1="353.00" x2="386.52" y2="353.00" stroke="#444" stroke-width="1.2"/>
<line x1="384.42" y1="350.80" x2="384.42" y2="355.20" stroke="#444" stroke-width="1.2"/>
<line x1="401.40" y1="353.00" x2="405.60" y2="353.00" stroke="#444" stroke-width="1.2"/>
<line x1="420.48" y1="353.00" x2="424.68" y2="353.00" stroke="#444" stroke-width="1.2"/>
<line x1="439.56" y1="353.00" x2="443.76" y2="353.00" stroke="#444" stroke-width="1.2"/>
<line x1="458.64" y1="353.00" x2="462.84" y2="353.00" stroke="#444" stroke-width="1.2"/>
<line x1="477.72" y1="353.00" x2="481.92" y2="353.00" stroke="#444" stroke-width="1.2"/>
<text x="0" y="0" font-size="8.36" text-anchor="end" transform="translate(288.80 367.57) scale(0.91 1)">ADP (20 µM)</text>
<line x1="306.00" y1="364.60" x2="310.20" y2="364.60" stroke="#444" stroke-width="1.2"/>
<line x1="325.08" y1="364.60" x2="329.28" y2="364.60" stroke="#444" stroke-width="1.2"/>
<line x1="344.16" y1="364.60" x2="348.36" y2="364.60" stroke="#444" stroke-width="1.2"/>
<line x1="363.24" y1="364.60" x2="367.44" y2="364.60" stroke="#444" stroke-width="1.2"/>
<line x1="382.32" y1="364.60" x2="386.52" y2="364.60" stroke="#444" stroke-width="1.2"/>
<line x1="401.40" y1="364.60" x2="405.60" y2="364.60" stroke="#444" stroke-width="1.2"/>
<line x1="420.48" y1="364.60" x2="424.68" y2="364.60" stroke="#444" stroke-width="1.2"/>
<line x1="439.56" y1="364.60" x2="443.76" y2="364.60" stroke="#444" stroke-width="1.2"/>
<line x1="441.66" y1="362.40" x2="441.66" y2="366.80" stroke="#444" stroke-width="1.2"/>
<line x1="458.64" y1="364.60" x2="462.84" y2="364.60" stroke="#444" stroke-width="1.2"/>
<line x1="477.72" y1="364.60" x2="481.92" y2="364.60" stroke="#444" stroke-width="1.2"/>
<line x1="479.82" y1="362.40" x2="479.82" y2="366.80" stroke="#444" stroke-width="1.2"/>
<text x="0" y="0" font-size="8.36" text-anchor="end" transform="translate(288.80 379.12) scale(0.91 1)">CRP (10 µg/mL)</text>
<line x1="306.00" y1="376.15" x2="310.20" y2="376.15" stroke="#444" stroke-width="1.2"/>
<line x1="325.08" y1="376.15" x2="329.28" y2="376.15" stroke="#444" stroke-width="1.2"/>
<line x1="344.16" y1="376.15" x2="348.36" y2="376.15" stroke="#444" stroke-width="1.2"/>
<line x1="363.24" y1="376.15" x2="367.44" y2="376.15" stroke="#444" stroke-width="1.2"/>
<line x1="382.32" y1="376.15" x2="386.52" y2="376.15" stroke="#444" stroke-width="1.2"/>
<line x1="401.40" y1="376.15" x2="405.60" y2="376.15" stroke="#444" stroke-width="1.2"/>
<line x1="420.48" y1="376.15" x2="424.68" y2="376.15" stroke="#444" stroke-width="1.2"/>
<line x1="422.58" y1="373.95" x2="422.58" y2="378.35" stroke="#444" stroke-width="1.2"/>
<line x1="439.56" y1="376.15" x2="443.76" y2="376.15" stroke="#444" stroke-width="1.2"/>
<line x1="458.64" y1="376.15" x2="462.84" y2="376.15" stroke="#444" stroke-width="1.2"/>
<line x1="460.74" y1="373.95" x2="460.74" y2="378.35" stroke="#444" stroke-width="1.2"/>
<line x1="477.72" y1="376.15" x2="481.92" y2="376.15" stroke="#444" stroke-width="1.2"/>
<line x1="48.40" y1="427.40" x2="48.40" y2="540.30" stroke="#262626" stroke-width="1.35"/>
<line x1="45.80" y1="539.50" x2="48.40" y2="539.50" stroke="#333" stroke-width="1.1"/>
<text x="0" y="0" font-size="8.14" text-anchor="end" transform="translate(42.60 542.61) scale(0.91 1)">0</text>
<line x1="45.80" y1="517.50" x2="48.40" y2="517.50" stroke="#333" stroke-width="1.1"/>
<text x="0" y="0" font-size="8.14" text-anchor="end" transform="translate(42.60 520.71) scale(0.91 1)">0.5</text>
<line x1="45.80" y1="495.50" x2="48.40" y2="495.50" stroke="#333" stroke-width="1.1"/>
<text x="0" y="0" font-size="8.14" text-anchor="end" transform="translate(42.60 498.81) scale(0.91 1)">1.0</text>
<line x1="45.80" y1="474.50" x2="48.40" y2="474.50" stroke="#333" stroke-width="1.1"/>
<text x="0" y="0" font-size="8.14" text-anchor="end" transform="translate(42.60 476.91) scale(0.91 1)">1.5</text>
<line x1="45.80" y1="452.50" x2="48.40" y2="452.50" stroke="#333" stroke-width="1.1"/>
<text x="0" y="0" font-size="8.14" text-anchor="end" transform="translate(42.60 455.01) scale(0.91 1)">2.0</text>
<line x1="45.80" y1="430.50" x2="48.40" y2="430.50" stroke="#333" stroke-width="1.1"/>
<text x="0" y="0" font-size="8.14" text-anchor="end" transform="translate(42.60 433.11) scale(0.91 1)">2.5</text>
<line x1="45.20" y1="540.40" x2="142.00" y2="540.40" stroke="#5c5c5c" stroke-width="1.5"/>
<rect x="52.40" y="497.40" width="14.80" height="42.10" fill="#a3002d" stroke="#9a0029" stroke-width="0.8"/>
<line x1="52.00" y1="539.20" x2="67.60" y2="539.20" stroke="#3a0010" stroke-width="1"/>
<line x1="83.70" y1="487.60" x2="83.70" y2="497.00" stroke="#444" stroke-width="1.4"/>
<line x1="79.60" y1="487.60" x2="87.80" y2="487.60" stroke="#3a3a3a" stroke-width="1.6"/>
<rect x="76.30" y="496.40" width="14.80" height="43.10" fill="#2c4a83" stroke="#233f78" stroke-width="0.8"/>
<line x1="75.90" y1="539.20" x2="91.50" y2="539.20" stroke="#0c1a40" stroke-width="1"/>
<line x1="107.20" y1="477.60" x2="107.20" y2="483.60" stroke="#444" stroke-width="1.4"/>
<line x1="103.10" y1="477.60" x2="111.30" y2="477.60" stroke="#3a3a3a" stroke-width="1.6"/>
<rect x="99.80" y="483.00" width="14.80" height="56.50" fill="#2c4a83" stroke="#233f78" stroke-width="0.8"/>
<line x1="99.40" y1="539.20" x2="115.00" y2="539.20" stroke="#0c1a40" stroke-width="1"/>
<line x1="130.80" y1="455.00" x2="130.80" y2="462.60" stroke="#444" stroke-width="1.4"/>
<line x1="126.70" y1="455.00" x2="134.90" y2="455.00" stroke="#3a3a3a" stroke-width="1.6"/>
<rect x="123.40" y="462.00" width="14.80" height="77.50" fill="#2c4a83" stroke="#233f78" stroke-width="0.8"/>
<line x1="123.00" y1="539.20" x2="138.60" y2="539.20" stroke="#0c1a40" stroke-width="1"/>
<polyline points="59.90,492.00 59.90,476.70 83.70,476.70 83.70,482.40" fill="none" stroke="#505050" stroke-width="1.4" stroke-linejoin="miter"/>
<polyline points="59.90,467.00 59.90,456.60 107.30,456.60 107.30,469.00" fill="none" stroke="#505050" stroke-width="1.4" stroke-linejoin="miter"/>
<polyline points="59.90,451.60 59.90,441.00 130.90,441.00 130.90,447.00" fill="none" stroke="#505050" stroke-width="1.4" stroke-linejoin="miter"/>
<text x="71.20" y="471.86" font-size="6.6" text-anchor="middle" style="stroke-width:0.1px"><tspan font-style="italic" style="stroke-width:0.05px">p</tspan> <tspan font-size="7.92" font-weight="bold" style="stroke-width:0.4px">=</tspan> 0.99</text>
<text x="83.40" y="451.96" font-size="6.6" text-anchor="middle" style="stroke-width:0.1px"><tspan font-style="italic" style="stroke-width:0.05px">p</tspan> <tspan font-size="7.92" font-weight="bold" style="stroke-width:0.4px">=</tspan> 0.16</text>
<text x="95.00" y="436.76" font-size="6.6" text-anchor="middle" style="stroke-width:0.1px"><tspan font-style="italic" style="stroke-width:0.05px">p</tspan> <tspan font-size="7.92">&lt;</tspan> 0.01</text>
<text x="0" y="0" font-size="8.36" text-anchor="middle" transform="translate(59.60 550.27) scale(0.91 1)">PBS</text>
<text x="0" y="0" font-size="8.36" text-anchor="middle" transform="translate(83.60 550.27) scale(0.91 1)">15</text>
<text x="0" y="0" font-size="8.36" text-anchor="middle" transform="translate(107.00 550.27) scale(0.91 1)">30</text>
<text x="0" y="0" font-size="8.36" text-anchor="middle" transform="translate(131.00 550.27) scale(0.91 1)">60</text>
<text x="0" y="0" font-size="7.7" text-anchor="start" transform="translate(141.30 549.95) scale(0.91 1)">min</text>
<line x1="74.50" y1="554.50" x2="139.00" y2="554.50" stroke="#333333" stroke-width="1.0"/>
<text x="0" y="0" font-size="8.36" text-anchor="middle" transform="translate(108.40 564.97) scale(0.91 1)">50 µg/mL</text>
<text x="0" y="0" font-size="8.36" text-anchor="middle" transform="translate(108.40 574.37) scale(0.91 1)">OxLDL</text>
<text x="26.60" y="483.20" font-size="8.4" text-anchor="middle" textLength="52.3" lengthAdjust="spacingAndGlyphs" style="stroke-width:0.35px" transform="rotate(-90 26.60 483.20)">COH (fold change)</text>
<line x1="207.60" y1="424.20" x2="207.60" y2="540.60" stroke="#262626" stroke-width="1.35"/>
<line x1="205.00" y1="540.50" x2="207.60" y2="540.50" stroke="#333" stroke-width="1.1"/>
<text x="0" y="0" font-size="8.14" text-anchor="end" transform="translate(201.80 542.91) scale(0.91 1)">0</text>
<line x1="205.00" y1="511.50" x2="207.60" y2="511.50" stroke="#333" stroke-width="1.1"/>
<text x="0" y="0" font-size="8.14" text-anchor="end" transform="translate(201.80 514.66) scale(0.91 1)">0.5</text>
<line x1="205.00" y1="483.50" x2="207.60" y2="483.50" stroke="#333" stroke-width="1.1"/>
<text x="0" y="0" font-size="8.14" text-anchor="end" transform="translate(201.80 486.41) scale(0.91 1)">1.0</text>
<line x1="205.00" y1="455.50" x2="207.60" y2="455.50" stroke="#333" stroke-width="1.1"/>
<text x="0" y="0" font-size="8.14" text-anchor="end" transform="translate(201.80 458.16) scale(0.91 1)">1.5</text>
<line x1="205.00" y1="427.50" x2="207.60" y2="427.50" stroke="#333" stroke-width="1.1"/>
<text x="0" y="0" font-size="8.14" text-anchor="end" transform="translate(201.80 429.91) scale(0.91 1)">2.0</text>
<line x1="204.80" y1="540.40" x2="287.30" y2="540.40" stroke="#5c5c5c" stroke-width="1.5"/>
<rect x="212.80" y="485.40" width="16.40" height="54.40" fill="#a3002d" stroke="#9a0029" stroke-width="0.8"/>
<line x1="212.40" y1="539.50" x2="229.60" y2="539.50" stroke="#3a0010" stroke-width="1"/>
<line x1="248.50" y1="449.20" x2="248.50" y2="459.00" stroke="#3c3c3c" stroke-width="1.0"/>
<line x1="244.20" y1="449.50" x2="251.80" y2="449.50" stroke="#3c3c3c" stroke-width="1.1"/>
<rect x="239.80" y="458.40" width="16.40" height="81.40" fill="#2c4a83" stroke="#233f78" stroke-width="0.8"/>
<line x1="239.40" y1="539.50" x2="256.60" y2="539.50" stroke="#0c1a40" stroke-width="1"/>
<line x1="274.50" y1="475.60" x2="274.50" y2="482.00" stroke="#3c3c3c" stroke-width="1.0"/>
<line x1="270.90" y1="475.50" x2="278.50" y2="475.50" stroke="#3c3c3c" stroke-width="1.1"/>
<rect x="266.50" y="481.40" width="16.40" height="58.40" fill="#2c4a83" stroke="#233f78" stroke-width="0.8"/>
<line x1="266.10" y1="539.50" x2="283.30" y2="539.50" stroke="#0c1a40" stroke-width="1"/>
<polyline points="221.50,424.50 221.50,421.50 274.50,421.50 274.50,424.50" fill="none" stroke="#3c3c3c" stroke-width="1.0" stroke-linejoin="miter"/>
<polyline points="221.50,476.50 221.50,436.50 246.50,436.50 246.50,442.50" fill="none" stroke="#3c3c3c" stroke-width="1.0" stroke-linejoin="miter"/>
<polyline points="248.50,442.50 248.50,436.50 274.50,436.50 274.50,470.50" fill="none" stroke="#3c3c3c" stroke-width="1.0" stroke-linejoin="miter"/>
<text x="248.00" y="416.96" font-size="6.6" text-anchor="middle" style="stroke-width:0.1px"><tspan font-style="italic" style="stroke-width:0.05px">p</tspan> <tspan font-size="7.92" font-weight="bold" style="stroke-width:0.4px">=</tspan> 0.8</text>
<text x="233.60" y="432.96" font-size="6.6" text-anchor="middle" style="stroke-width:0.1px"><tspan font-style="italic" style="stroke-width:0.05px">p</tspan> <tspan font-size="7.92" font-weight="bold" style="stroke-width:0.4px">=</tspan> 0.03</text>
<text x="261.00" y="432.96" font-size="6.6" text-anchor="middle" style="stroke-width:0.1px"><tspan font-style="italic" style="stroke-width:0.05px">p</tspan> <tspan font-size="7.92" font-weight="bold" style="stroke-width:0.4px">=</tspan> 0.01</text>
<text x="0" y="0" font-size="8.36" text-anchor="middle" transform="translate(233.50 550.37) scale(0.91 1)">Denatured</text>
<text x="0" y="0" font-size="8.36" text-anchor="middle" transform="translate(233.50 559.17) scale(0.91 1)">PEG-Cat</text>
<text x="0" y="0" font-size="8.36" text-anchor="middle" transform="translate(274.20 550.37) scale(0.91 1)">PEG-Cat</text>
<line x1="211.20" y1="564.50" x2="231.20" y2="564.50" stroke="#333333" stroke-width="1.0"/>
<line x1="240.80" y1="564.50" x2="285.00" y2="564.50" stroke="#333333" stroke-width="1.0"/>
<text x="0" y="0" font-size="8.36" text-anchor="middle" transform="translate(221.00 574.17) scale(0.91 1)">PBS</text>
<text x="0" y="0" font-size="8.36" text-anchor="middle" transform="translate(262.60 574.17) scale(0.91 1)">50 µg/mL</text>
<text x="0" y="0" font-size="8.36" text-anchor="middle" transform="translate(262.60 583.37) scale(0.91 1)">OxLDL</text>
<text x="186.60" y="482.00" font-size="8.4" text-anchor="middle" textLength="52.3" lengthAdjust="spacingAndGlyphs" style="stroke-width:0.35px" transform="rotate(-90 186.60 482.00)">COH (fold change)</text>
<line x1="346.00" y1="432.40" x2="346.00" y2="540.20" stroke="#262626" stroke-width="1.35"/>
<line x1="343.40" y1="539.50" x2="346.00" y2="539.50" stroke="#333" stroke-width="1.1"/>
<text x="0" y="0" font-size="8.14" text-anchor="end" transform="translate(340.20 542.51) scale(0.91 1)">0</text>
<line x1="343.40" y1="513.50" x2="346.00" y2="513.50" stroke="#333" stroke-width="1.1"/>
<line x1="343.40" y1="487.50" x2="346.00" y2="487.50" stroke="#333" stroke-width="1.1"/>
<text x="0" y="0" font-size="8.14" text-anchor="end" transform="translate(340.20 490.51) scale(0.91 1)">0.5</text>
<line x1="343.40" y1="461.50" x2="346.00" y2="461.50" stroke="#333" stroke-width="1.1"/>
<line x1="343.40" y1="435.50" x2="346.00" y2="435.50" stroke="#333" stroke-width="1.1"/>
<text x="0" y="0" font-size="8.14" text-anchor="end" transform="translate(340.20 438.51) scale(0.91 1)">1.0</text>
<line x1="343.40" y1="540.20" x2="408.40" y2="540.20" stroke="#5c5c5c" stroke-width="1.5"/>
<rect x="352.40" y="437.40" width="18.80" height="102.00" fill="#2c4a83" stroke="#233f78" stroke-width="0.8"/>
<line x1="352.00" y1="539.10" x2="371.60" y2="539.10" stroke="#0c1a40" stroke-width="1"/>
<line x1="392.70" y1="461.00" x2="392.70" y2="476.60" stroke="#444" stroke-width="1.4"/>
<line x1="388.60" y1="461.00" x2="396.80" y2="461.00" stroke="#3a3a3a" stroke-width="1.6"/>
<rect x="383.30" y="476.00" width="18.80" height="63.40" fill="#2c4a83" stroke="#233f78" stroke-width="0.8"/>
<line x1="382.90" y1="539.10" x2="402.50" y2="539.10" stroke="#0c1a40" stroke-width="1"/>
<polyline points="361.60,432.70 361.60,428.10 392.90,428.10 392.90,453.60" fill="none" stroke="#505050" stroke-width="1.4" stroke-linejoin="miter"/>
<text x="377.00" y="423.96" font-size="6.6" text-anchor="middle" style="stroke-width:0.1px"><tspan font-style="italic" style="stroke-width:0.05px">p</tspan> <tspan font-size="7.92" font-weight="bold" style="stroke-width:0.4px">=</tspan> 0.04</text>
<text x="0" y="0" font-size="8.36" text-anchor="middle" transform="translate(361.60 550.37) scale(0.91 1)">IgG</text>
<text x="0" y="0" font-size="8.36" text-anchor="middle" transform="translate(392.40 550.37) scale(0.91 1)">FA6</text>
<line x1="352.00" y1="554.50" x2="402.00" y2="554.50" stroke="#333333" stroke-width="1.0"/>
<text x="0" y="0" font-size="8.36" text-anchor="middle" transform="translate(377.00 564.97) scale(0.91 1)">50 µg/mL</text>
<text x="0" y="0" font-size="8.36" text-anchor="middle" transform="translate(377.00 574.37) scale(0.91 1)">OxLDL</text>
<text x="324.80" y="485.70" font-size="8.4" text-anchor="middle" textLength="52.9" lengthAdjust="spacingAndGlyphs" style="stroke-width:0.35px" transform="rotate(-90 324.80 485.70)">COH (fold change)</text>
</svg>
</body></html>
